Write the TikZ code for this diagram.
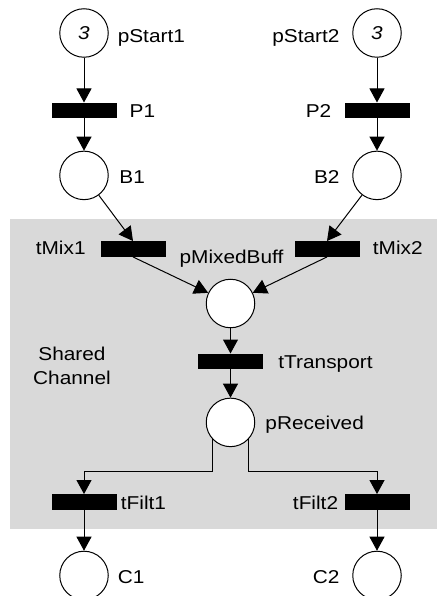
\documentclass[tikz,border=0pt]{standalone}
\usepackage{fontspec}
\setmainfont[FakeStretch=1.12]{Liberation Sans}
\usepackage{tikz}
\usetikzlibrary{arrows.meta, positioning}
\definecolor{channelgray}{RGB}{217,217,217}
\newcommand{\netfont}{\fontsize{18.6}{24}\selectfont}
\tikzset{
  place/.style={
    circle, draw, line width=1pt, fill=white,
    minimum size=48.5pt, inner sep=0pt,
    font=\netfont\itshape
  },
  trans/.style={rectangle, fill=black, minimum width=65pt, minimum height=15.5pt, inner sep=0pt},
  lbl/.style  ={inner sep=0pt, text height=13.3pt, text depth=0pt},
  arc/.style  ={-{Triangle[length=14pt, width=15pt]}, line width=1pt},
}

\begin{document}
\begin{tikzpicture}[x=1pt, y=-1pt, font=\netfont]

  \useasboundingbox (0,0) rectangle (437,596);

  % Shared channel
  \fill[channelgray] (10,218.5) rectangle (437,529);
  \node[align=center] (chan) at (72,365.4) {Shared\\Channel};

  % Nodes
  \node[place] (pS1) at (84,33)  {3};
  \node[place] (pS2) at (377,33) {3};

  \node[trans, below=44.75pt of pS1] (P1) {};
  \node[trans, below=44.75pt of pS2] (P2) {};
  \node[place, below=32.25pt of P1]  (B1) {};
  \node[place, below=32.25pt of P2]  (B2) {};

  \node[trans] (tMix1) at (133,249) {};
  \node[trans] (tMix2) at (327,249) {};

  \node[place] (pMix) at (230.5,303.5) {};
  \node[trans, below=25.25pt of pMix] (tTr)  {};
  \node[place, below=28.25pt of tTr]  (pRec) {};

  \node[trans] (tF1) at (84,502)  {};
  \node[trans] (tF2) at (377,502) {};
  \node[place, below=40.75pt of tF1] (C1) {};
  \node[place, below=40.75pt of tF2] (C2) {};

  % Labels
  \node[lbl, right=8.8pt of pS1, yshift=-3.3pt]  {pStart1};
  \node[lbl, left=12.5pt of pS2, yshift=-3.3pt]  {pStart2};
  \node[lbl, right=12.8pt of P1]                 {P1};
  \node[lbl, left=12.8pt of P2]                  {P2};
  \node[lbl, right=10.5pt of B1, yshift=-1.5pt]  {B1};
  \node[lbl, left=12.5pt of B2, yshift=-1.5pt]   {B2};
  \node[lbl, left=14.5pt of tMix1, yshift=1pt]   {tMix1};
  \node[lbl, right=13pt of tMix2, yshift=1pt]    {tMix2};
  \node[lbl, above=14.85pt of pMix, xshift=1pt]  {pMixedBuff};
  \node[lbl, right=15pt of tTr, yshift=-0.7pt]   {tTransport};
  \node[lbl, right=10pt of pRec]                 {pReceived};
  \node[lbl, right=4pt of tF1, yshift=-0.5pt]    {tFilt1};
  \node[lbl, left=6pt of tF2, yshift=-0.5pt]     {tFilt2};
  \node[lbl, right=8.8pt of C1, yshift=-1.3pt]   {C1};
  \node[lbl, left=12.5pt of C2, yshift=-1.3pt]   {C2};

  % Arrows
  \foreach \a/\b in {pS1/P1, P1/B1, pS2/P2, P2/B2, B1/tMix1.north, B2/tMix2.north,
                     tMix1.south/pMix, tMix2.south/pMix, pMix/tTr, tTr/pRec, tF1/C1, tF2/C2}{
    \draw[arc] (\a) -- (\b);
  }
  \draw[arc] (pRec.222) -- ++(0,33) -| (tF1.north);
  \draw[arc] (pRec.318) -- ++(0,33) -| (tF2.north);

\end{tikzpicture}
\end{document}
